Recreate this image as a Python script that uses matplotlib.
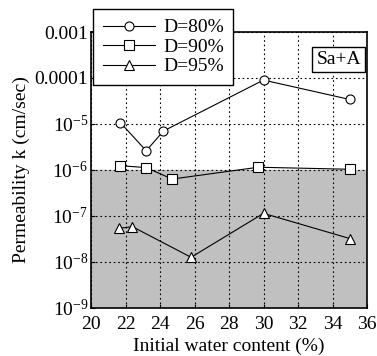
import matplotlib
matplotlib.use("Agg")
import matplotlib.pyplot as plt
from matplotlib.ticker import FixedLocator, FixedFormatter, NullLocator

plt.rcParams["font.family"] = ["Liberation Serif", "DejaVu Serif"]
plt.rcParams["mathtext.fontset"] = "custom"
plt.rcParams["mathtext.rm"] = "Liberation Serif"

# data
x_80 = [21.7, 23.2, 24.2, 30.0, 35.0]
k_80 = [1.07e-5, 2.6e-6, 7.0e-6, 9.0e-5, 3.4e-5]
x_90 = [21.7, 23.2, 24.7, 29.7, 35.0]
k_90 = [1.23e-6, 1.12e-6, 6.3e-7, 1.14e-6, 1.03e-6]
x_95 = [21.6, 22.4, 25.8, 30.0, 35.0]
k_95 = [5.3e-8, 5.8e-8, 1.25e-8, 1.13e-7, 3.2e-8]
series_labels = ["D=80%", "D=90%", "D=95%"]
x_ticks = [20, 22, 24, 26, 28, 30, 32, 34, 36]
y_ticks = [1e-9, 1e-8, 1e-7, 1e-6, 1e-5, 1e-4, 1e-3]
y_tick_labels = [r"$\mathregular{10^{-9}}$", r"$\mathregular{10^{-8}}$",
                 r"$\mathregular{10^{-7}}$", r"$\mathregular{10^{-6}}$",
                 r"$\mathregular{10^{-5}}$", "0.0001", "0.001"]
limit_k = 1e-6
fs = 14

fig = plt.figure(figsize=(3.77, 3.56), dpi=100)
ax = fig.add_axes([0.2414, 0.1357, 0.9735 - 0.2414, 0.9101 - 0.1357])

ax.set_yscale("log")
ax.set_xlim(20, 36)
ax.set_ylim(1e-9, 1e-3)
ax.axhspan(1e-9, limit_k, color="#c0c0c0", zorder=0)

mk = dict(color="k", lw=0.8, markersize=6.5, markerfacecolor="white",
          markeredgecolor="k", markeredgewidth=0.8, zorder=3)
ax.plot(x_80, k_80, marker="o", label=series_labels[0], **mk)
ax.plot(x_90, k_90, marker="s", label=series_labels[1], **mk)
ax.plot(x_95, k_95, marker="^", label=series_labels[2], **mk)

ax.xaxis.set_major_locator(FixedLocator(x_ticks))
ax.yaxis.set_major_locator(FixedLocator(y_ticks))
ax.yaxis.set_major_formatter(FixedFormatter(y_tick_labels))
ax.yaxis.set_minor_locator(NullLocator())
ax.grid(True, which="major", color="k", linestyle=(0, (1.5, 2.5)), lw=0.8)
ax.set_axisbelow(False)
ax.tick_params(direction="in", length=3, width=0.8, labelsize=fs)
ax.tick_params(axis="x", pad=6)
ax.tick_params(axis="y", pad=2)
for s in ax.spines.values():
    s.set_linewidth(1.2)

ax.set_xlabel("Initial water content (%)", fontsize=fs, labelpad=3)
ax.set_ylabel("Permeability k (cm/sec)", fontsize=fs, labelpad=3)

leg = fig.legend(loc="upper left", bbox_to_anchor=(93 / 377, 1 - 9 / 356),
                 fontsize=fs, frameon=True, fancybox=False, edgecolor="k",
                 framealpha=1, handlelength=2.7, borderpad=0.5,
                 labelspacing=0.1, handletextpad=0.4, borderaxespad=0)
leg.get_frame().set_linewidth(1.0)

ax.text(0.978, 0.900, "Sa+A", transform=ax.transAxes, ha="right", va="center",
        fontsize=fs,
        bbox=dict(boxstyle="square,pad=0.2", fc="white", ec="k", lw=1.0))

fig.savefig("out.png", dpi=100)
